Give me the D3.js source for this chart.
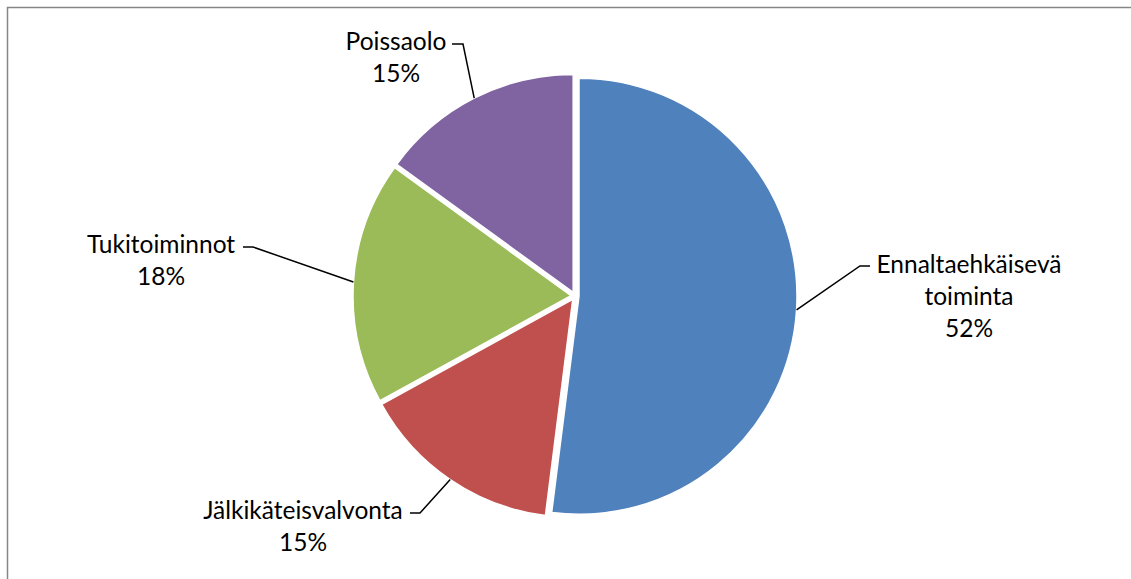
<!DOCTYPE html>
<html>
<head>
<meta charset="utf-8">
<script src="https://cdn.jsdelivr.net/npm/d3@7"></script>
<style>
  html, body { margin: 0; padding: 0; background: #fff; }
  svg { display: block; }
</style>
</head>
<body>
<svg id="chart" width="1131" height="579"></svg>
<script>
// ---- data ----
const categories = ["Ennaltaehkäisevä toiminta", "Jälkikäteisvalvonta", "Tukitoiminnot", "Poissaolo"];
const labelLines = [["Ennaltaehkäisevä", "toiminta", "52%"], ["Jälkikäteisvalvonta", "15%"], ["Tukitoiminnot", "18%"], ["Poissaolo", "15%"]];
const values = [52, 15, 18, 15];
const colors = ["#4F81BD", "#C0504D", "#9BBB59", "#8064A2"];

// ---- layout ----
const W = 1131, H = 579;
const cx = 575, cy = 296, R = 218, explode = 4;
// label block: text centre x, first baseline y, elbow line start
const labelLayout = [
  { x: 969, y: 273, lx: 870, ly: 266, ex: 860 },
  { x: 303, y: 519, lx: 410, ly: 513, ex: 420 },
  { x: 161, y: 253, lx: 243, ly: 247, ex: 253 },
  { x: 396, y: 50,  lx: 452, ly: 44,  ex: 463 }
];
const lineH = 32;

const svg = d3.select("#chart");

// border (top & left visible)
svg.append("path")
  .attr("d", `M7.5,${H} L7.5,7.5 L${W},7.5`)
  .attr("fill", "none").attr("stroke", "#868686").attr("stroke-width", 1.5);

const pie = d3.pie().sort(null).value(d => d)(values);
const arc = d3.arc().innerRadius(0).outerRadius(R);

const g = svg.append("g").attr("transform", `translate(${cx},${cy})`);

g.selectAll("path.slice").data(pie).enter().append("path")
  .attr("class", "slice")
  .attr("d", arc)
  .attr("fill", (d, i) => colors[i])
  .attr("stroke", "#fff").attr("stroke-width", 1.5)
  .attr("transform", d => {
    const a = (d.startAngle + d.endAngle) / 2;
    return `translate(${explode * Math.sin(a)},${-explode * Math.cos(a)})`;
  });

// leader lines
pie.forEach((d, i) => {
  const a = (d.startAngle + d.endAngle) / 2;
  const px = cx + (explode + R) * Math.sin(a);
  const py = cy - (explode + R) * Math.cos(a);
  const L = labelLayout[i];
  svg.append("polyline")
    .attr("points", `${L.lx},${L.ly} ${L.ex},${L.ly} ${px},${py}`)
    .attr("fill", "none").attr("stroke", "#000").attr("stroke-width", 1.5);
});

// labels
labelLines.forEach((lines, i) => {
  const L = labelLayout[i];
  const t = svg.append("text")
    .attr("text-anchor", "middle")
    .attr("font-family", "Lato, 'Open Sans', sans-serif")
    .attr("font-size", 24.5)
    .attr("fill", "#000");
  lines.forEach((s, j) => {
    t.append("tspan").attr("x", L.x).attr("y", L.y + j * lineH).text(s);
  });
});
</script>
</body>
</html>
